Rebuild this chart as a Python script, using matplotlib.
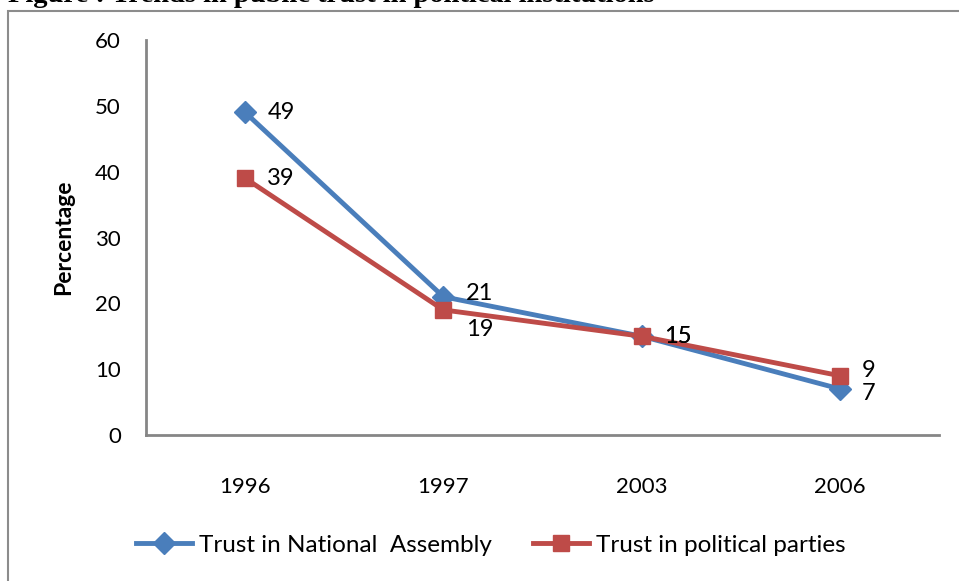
import matplotlib.pyplot as plt
from matplotlib.patches import Rectangle

# chart data
years = ["1996", "1997", "2003", "2006"]
assembly = [49, 21, 15, 7]
parties = [39, 19, 15, 9]
series_names = ["Trust in National  Assembly", "Trust in political parties"]
y_ticks = [0, 10, 20, 30, 40, 50, 60]

# label offsets in points (dx, dy)
assembly_off = [(16, 0), (16, 2), (16, 0), (16, -3)]
parties_off = [(16, 0), (16, -14), (16, 0), (16, 4)]

BLUE = "#4A7EBB"
RED = "#BE4B48"
GREY = "#868686"

plt.rcParams["font.family"] = ["Lato", "DejaVu Sans"]

fig = plt.figure(figsize=(9.59, 5.81), dpi=100)
ax = fig.add_axes([146 / 959, 1 - 435 / 581, (939 - 146) / 959, (435 - 40) / 581])

# outer chart frame, partly cut off like the original screenshot
fig.patches.append(Rectangle((8 / 959, -0.1), 1.2, 1 - 11 / 581 + 0.1,
                             transform=fig.transFigure, fill=False,
                             edgecolor="#8c8c8c", linewidth=1.5))
fig.text(8 / 959, 1 - 2 / 581, "Figure : Trends in public trust in political institutions",
         family="Liberation Serif", weight="bold", fontsize=20.5, va="baseline", ha="left")

x = list(range(len(years)))
ax.plot(x, assembly, color=BLUE, lw=3.5, marker="D", ms=11, label=series_names[0])
ax.plot(x, parties, color=RED, lw=3.5, marker="s", ms=12, label=series_names[1])

for xi, v, off in zip(x, assembly, assembly_off):
    ax.annotate(str(v), (xi, v), xytext=off, textcoords="offset points",
                fontsize=17, va="center", ha="left")
for xi, v, off in zip(x, parties, parties_off):
    ax.annotate(str(v), (xi, v), xytext=off, textcoords="offset points",
                fontsize=17, va="center", ha="left")

ax.set_xlim(-0.5, 3.5)
ax.set_ylim(0, 60)
ax.set_yticks(y_ticks)
ax.set_xticks(x)
ax.set_xticklabels(years)
ax.tick_params(axis="both", length=0, labelsize=16)
ax.tick_params(axis="x", pad=30)
ax.tick_params(axis="y", pad=18)
for s in ["top", "right"]:
    ax.spines[s].set_visible(False)
for s in ["left", "bottom"]:
    ax.spines[s].set_color(GREY)
    ax.spines[s].set_linewidth(2)
ax.set_ylabel("Percentage", fontsize=16.5, fontweight="bold", labelpad=15)

fig.legend(loc="center", bbox_to_anchor=(491 / 959, 1 - 545 / 581), ncol=2,
           frameon=False, fontsize=17.5, handlelength=2.3, columnspacing=1.7,
           handletextpad=0.3)

fig.savefig("out.png", dpi=100)
